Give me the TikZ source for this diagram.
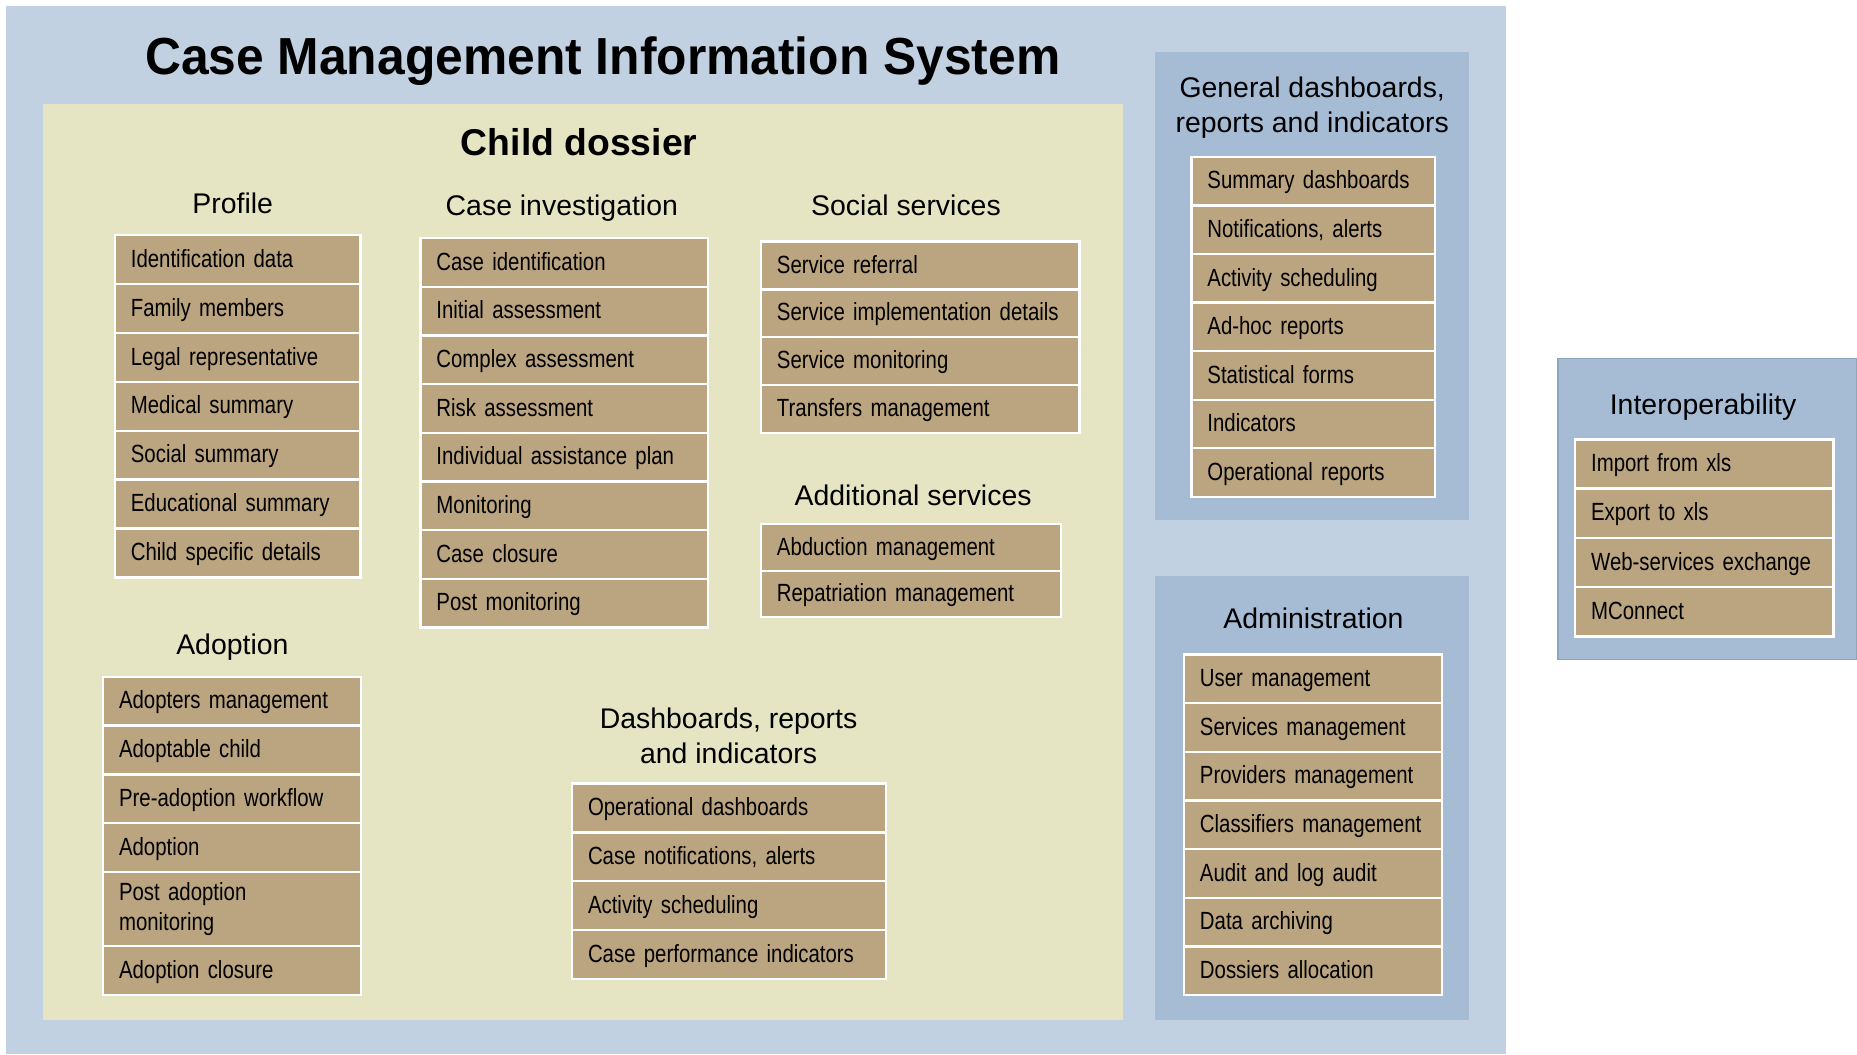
\documentclass[tikz,border=0pt]{standalone}
\usepackage{fontspec}
\setmainfont{Liberation Sans}
\newfontfamily\narrowfont[FakeStretch=0.82]{Liberation Sans}
\newfontfamily\titlefont[FakeStretch=0.955]{Liberation Sans}
\definecolor{outerblue}{HTML}{C1D1E2}
\definecolor{panelblue}{HTML}{A6BCD5}
\definecolor{dossierbg}{HTML}{E5E5C4}
\definecolor{itemtan}{HTML}{BBA580}
\definecolor{interopborder}{HTML}{8FA4BE}
\tikzset{
  itembox/.style={draw=white, line width=2pt, fill=itemtan, outer sep=0pt,
    inner xsep=13.5pt, inner ysep=0pt, anchor=north west, align=left,
    font=\narrowfont\fontsize{21}{25.3}\selectfont, text height=15pt, text depth=2pt},
  itemtall/.style={draw=white, line width=2pt, fill=itemtan, outer sep=0pt,
    inner xsep=13.5pt, inner ysep=0pt, anchor=north west, align=left,
    font=\narrowfont\fontsize{21}{25.3}\selectfont},
  heading/.style={anchor=base, inner sep=0pt, font=\fontsize{24}{29.6}\selectfont},
  heading2/.style={anchor=north, inner sep=0pt, align=center, font=\fontsize{24}{29.6}\selectfont}
}
\newcommand\itemlist[7]{%
  \foreach \t [count=\i from 0] in {#7}{%
    \node[itembox, text width=#5pt, minimum height=#6pt] (#1-\i) at ({#2},{#3+\i*#6}) {\t};
  }}
\begin{document}
\begin{tikzpicture}[x=1pt,y=-1pt]
\useasboundingbox (0,0) rectangle (1568,890);
% containers
\fill[outerblue] (5,5) rectangle (1271.5,890);
\fill[dossierbg] (36.7,87.8) rectangle (948.6,861);
\fill[panelblue] (975.5,44.3) rectangle (1240.5,439.4);
\fill[panelblue] (975.6,486.5) rectangle (1240.7,861.5);
\filldraw[fill=panelblue, draw=interopborder, line width=1pt] (1315.5,303) rectangle (1567.5,557);
% titles
\node[anchor=base, inner sep=0pt, font=\titlefont\bfseries\fontsize{44}{50}\selectfont] (title) at (509,63) {Case Management Information System};
\node[anchor=base, inner sep=0pt, font=\bfseries\fontsize{31.5}{36}\selectfont] (dossier) at (489,131) {Child dossier};
% headings
\node[heading] (hprofile) at (196.5,180.6) {Profile};
\node[heading] (hcase) at (474.4,181.8) {Case investigation};
\node[heading] (hsocial) at (765,182) {Social services};
\node[heading] (hadd) at (771,426.5) {Additional services};
\node[heading] (hadopt) at (196.2,553) {Adoption};
\node[heading2] (hdash) at (615.2,594.3) {\strut Dashboards, reports\\\strut and indicators};
\node[heading2] (hgen) at (1108,61.7) {\strut General dashboards,\\\strut reports and indicators};
\node[heading] (hinter) at (1438,350) {Interoperability};
\node[heading] (hadmin) at (1109,531) {Administration};
% item lists
\itemlist{pr}{97}{198.5}{207.5}{180.5}{41.3}{Identification data,Family members,Legal representative,Medical summary,Social summary,Educational summary,Child specific details}
\itemlist{ci}{355}{201}{243}{216}{41.1}{Case identification,Initial assessment,Complex assessment,Risk assessment,Individual assistance plan,Monitoring,Case closure,Post monitoring}
\itemlist{ss}{642.5}{204}{269}{242}{40.35}{Service referral,Service implementation details,Service monitoring,Transfers management}
\itemlist{as}{642.5}{442.7}{253.5}{226.5}{39.2}{Abduction management,Repatriation management}
\itemlist{ad}{87}{571.5}{218}{191}{41.2}{Adopters management,Adoptable child,Pre-adoption workflow,Adoption}
\node[itemtall, text width=191pt, minimum height=62.7pt] (ad-4) at (87,736.3) {Post adoption\\monitoring};
\node[itembox, text width=191pt, minimum height=41.4pt] (ad-5) at (87,799) {Adoption closure};
\itemlist{db}{483}{661.6}{265.3}{238.3}{41.2}{Operational dashboards,{Case notifications, alerts},Activity scheduling,Case performance indicators}
\itemlist{gd}{1006}{132.5}{205.5}{178.5}{41}{Summary dashboards,{Notifications, alerts},Activity scheduling,Ad-hoc reports,Statistical forms,Indicators,Operational reports}
\itemlist{am}{999.7}{552.6}{218}{191}{41.1}{User management,Services management,Providers management,Classifiers management,Audit and log audit,Data archiving,Dossiers allocation}
\itemlist{io}{1330}{371}{218}{191}{41.6}{Import from xls,Export to xls,Web-services exchange,MConnect}
\end{tikzpicture}
\end{document}
